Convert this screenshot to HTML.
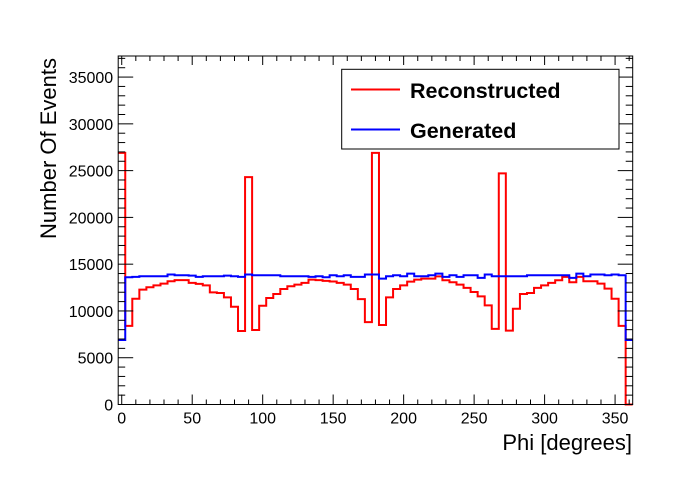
<!DOCTYPE html>
<html><head><meta charset="utf-8"><style>
body{margin:0;background:#fff}
svg{display:block;font-family:"Liberation Sans",Arial,sans-serif}
</style></head><body>
<svg id="c" width="700" height="500"></svg>
<script>
const binCenters=[0,5,10,15,20,25,30,35,40,45,50,55,60,65,70,75,80,85,90,95,100,105,110,115,120,125,130,135,140,145,150,155,160,165,170,175,180,185,190,195,200,205,210,215,220,225,230,235,240,245,250,255,260,265,270,275,280,285,290,295,300,305,310,315,320,325,330,335,340,345,350,355,360];
const reconstructed=[26900,8400,11300,12280,12530,12740,12920,13180,13290,13290,13000,12890,12740,11990,11920,11450,10450,7860,24300,7970,10550,11380,11810,12350,12640,12820,13000,13350,13290,13220,13150,13000,12820,12350,11270,8800,26900,8500,11450,12350,12740,13140,13350,13460,13460,13700,13280,13070,12820,12460,12030,11560,10590,8080,24700,7900,10230,11810,11920,12460,12740,13000,13280,13640,13070,13640,13180,13180,12920,12390,11310,8400,0];
const generated=[6900,13600,13640,13710,13710,13710,13710,13890,13820,13820,13780,13640,13710,13710,13710,13780,13710,13640,13890,13820,13820,13820,13820,13710,13710,13710,13710,13640,13710,13600,13820,13710,13820,13640,13640,13890,13890,13460,13710,13820,13710,13990,13710,13710,13820,13990,13640,13820,13640,13820,13820,13530,13890,13710,13710,13710,13710,13710,13820,13820,13820,13820,13820,13820,13530,13990,13710,13890,13890,13820,13890,13820,6900];
const xTicks=[0,50,100,150,200,250,300,350];
const yTicks=[0,5000,10000,15000,20000,25000,30000,35000];
const binWidth=5;
const L=118.2,R=632.7,T=56,B=404.5;
const xMin=-2.5,xMax=362.5,yMin=0,yMax=(B-T)/0.009355;
const X=v=>L+(v-xMin)/(xMax-xMin)*(R-L);
const Y=v=>B-(v-yMin)/(yMax-yMin)*(B-T);
const svg=document.getElementById('c');
const NS='http://www.w3.org/2000/svg';
function mk(tag,attrs,parent){const e=document.createElementNS(NS,tag);for(const k in attrs)e.setAttribute(k,attrs[k]);(parent||svg).appendChild(e);return e;}
function stepPath(vals){
  let d='';
  for(let i=0;i<vals.length;i++){
    const x0=X(binCenters[i]-binWidth/2),x1=X(binCenters[i]+binWidth/2),y=Y(vals[i]);
    d+=(i===0?'M'+x0+' '+y:'L'+x0+' '+y)+' L'+x1+' '+y+' ';
  }
  return d;
}
const pr=mk('path',{d:stepPath(reconstructed),fill:'none',stroke:'#ff0000','stroke-width':2});


const pg=mk('path',{d:stepPath(generated),fill:'none',stroke:'#0000ff','stroke-width':2});


const fr=mk('rect',{x:L,y:T,width:R-L,height:B-T,fill:'none',stroke:'#000','stroke-width':1});


const gx=mk('g',{stroke:'#000','stroke-width':1});


for(let v=0;v<=360;v+=10){
  const major=v%50===0,x=X(v);
  mk('line',{x1:x,y1:B,x2:x,y2:B-(major?10:5)},gx);
  mk('line',{x1:x,y1:T,x2:x,y2:T+(major?9:5)},gx);
}
xTicks.forEach(v=>{
  const t=mk('text',{x:X(v),y:B+19,'text-anchor':'middle','font-size':16,fill:'#000',stroke:'none'});
  t.textContent=v;
  
  
});
const gy=mk('g',{stroke:'#000','stroke-width':1});


for(let v=0;v<=37000;v+=1000){
  const major=v%5000===0,y=Y(v);
  mk('line',{x1:L,y1:y,x2:L+(major?15:7),y2:y},gy);
  mk('line',{x1:R,y1:y,x2:R-(major?15:7),y2:y},gy);
}
yTicks.forEach(v=>{
  const t=mk('text',{x:L-5,y:Y(v)+6,'text-anchor':'end','font-size':16,fill:'#000',stroke:'none'});
  t.textContent=v;
  
  
});
const xt=mk('text',{x:632,y:450,'text-anchor':'end','font-size':22,fill:'#000'});
xt.textContent='Phi [degrees]';


const yt=mk('text',{x:0,y:0,'text-anchor':'end','font-size':22,fill:'#000',transform:'translate(56,58) rotate(-90)'});
yt.textContent='Number Of Events';


const lg=mk('g',{});


mk('rect',{x:341.7,y:69.3,width:277.3,height:79.7,fill:'#fff',stroke:'#000','stroke-width':1},lg);
const l1=mk('line',{x1:351,y1:89.5,x2:400,y2:89.5,stroke:'#ff0000','stroke-width':2},lg);


const t1=mk('text',{x:410,y:98,'font-size':21.5,'font-weight':'bold',fill:'#000'},lg);
t1.textContent='Reconstructed';


const l2=mk('line',{x1:351,y1:129.5,x2:400,y2:129.5,stroke:'#0000ff','stroke-width':2},lg);


const t2=mk('text',{x:410,y:138,'font-size':21.5,'font-weight':'bold',fill:'#000'},lg);
t2.textContent='Generated';


</script>
</body></html>
